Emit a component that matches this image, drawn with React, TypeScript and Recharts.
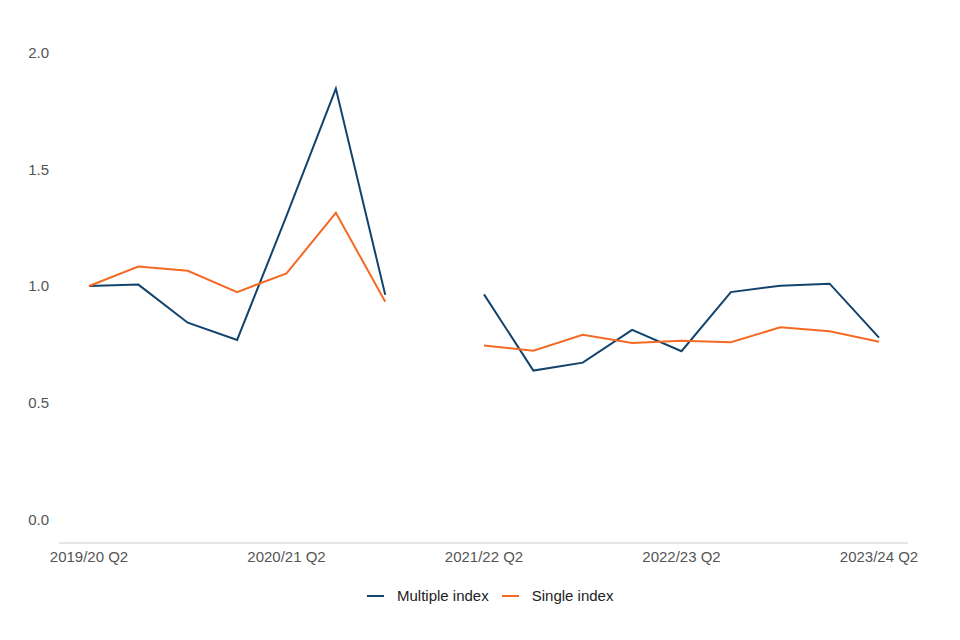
import { LineChart, Line, XAxis, YAxis, Legend } from "recharts"

const quarters = [
  "2019/20 Q2", "2019/20 Q3", "2019/20 Q4", "2020/21 Q1",
  "2020/21 Q2", "2020/21 Q3", "2020/21 Q4", "2021/22 Q1",
  "2021/22 Q2", "2021/22 Q3", "2021/22 Q4", "2022/23 Q1",
  "2022/23 Q2", "2022/23 Q3", "2022/23 Q4", "2023/24 Q1",
  "2023/24 Q2",
]

const multipleIndex = [
  1.0, 1.006, 0.843, 0.769, 1.3, 1.845, 0.962, null,
  0.964, 0.638, 0.672, 0.812, 0.721, 0.974, 1.001, 1.01, 0.779,
]

const singleIndex = [
  1.0, 1.083, 1.065, 0.974, 1.054, 1.313, 0.933, null,
  0.745, 0.723, 0.791, 0.756, 0.766, 0.759, 0.823, 0.806, 0.761,
]

const yTicks = [0, 0.5, 1, 1.5, 2]

const data = quarters.map((q, i) => ({
  quarter: q,
  multiple: multipleIndex[i],
  single: singleIndex[i],
}))

const BLUE = "#12436D"
const ORANGE = "#F46A25"

const legendItems = [
  { label: "Multiple index", color: BLUE },
  { label: "Single index", color: ORANGE },
]

function ChartLegend() {
  return (
    <div style={{ display: "flex", alignItems: "center", fontFamily: "'Liberation Sans', Arial, sans-serif", fontSize: 15, color: "#222" }}>
      {legendItems.map((item, i) => (
        <div key={item.label} style={{ display: "flex", alignItems: "center", marginLeft: i ? 13 : 0 }}>
          <span style={{ display: "inline-block", width: 17, height: 2, background: item.color, marginRight: 13 }} />
          <span>{item.label}</span>
        </div>
      ))}
    </div>
  )
}

export default function App() {
  return (
    <LineChart
      width={944}
      height={624}
      data={data}
      margin={{ top: 21, right: 44, left: 0, bottom: 59 }}
      style={{ fontFamily: "'Liberation Sans', Arial, sans-serif" }}
    >
      <XAxis
        dataKey="quarter"
        interval={3}
        tickLine={false}
        axisLine={{ stroke: "#cccccc" }}
        tick={{ fill: "#555", fontSize: 15 }}
        padding={{ left: 30, right: 29 }}
        height={30}
      />
      <YAxis
        domain={[-0.1, 2.1]}
        ticks={yTicks}
        tickFormatter={(v: number) => v.toFixed(1)}
        axisLine={false}
        tickLine={false}
        tickMargin={4}
        width={51}
        tick={{ fill: "#555", fontSize: 15 }}
      />
      <Legend
        verticalAlign="middle"
        align="center"
        wrapperStyle={{ top: 579, left: 359 }}
        content={() => <ChartLegend />}
      />
      <Line
        dataKey="multiple"
        stroke={BLUE}
        strokeWidth={2}
        dot={false}
        activeDot={false}
        isAnimationActive={false}
      />
      <Line
        dataKey="single"
        stroke={ORANGE}
        strokeWidth={2}
        dot={false}
        activeDot={false}
        isAnimationActive={false}
      />
    </LineChart>
  )
}
